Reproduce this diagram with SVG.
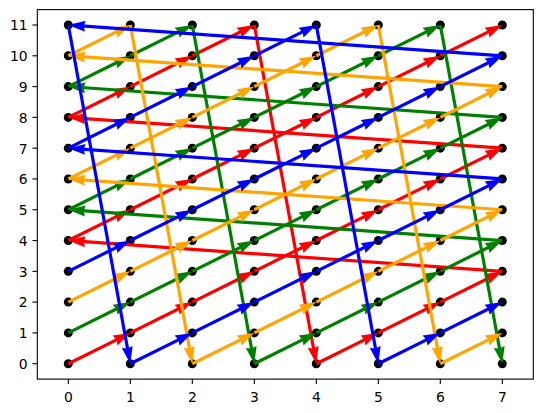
<svg xmlns="http://www.w3.org/2000/svg" xmlns:xlink="http://www.w3.org/1999/xlink" width="543" height="413" viewBox="0 0 543 413">
<style>
.pt{fill:#000}
.tick{stroke:#000;stroke-width:1.1}
.lbl{font-family:"DejaVu Sans",sans-serif;font-size:13.9px;fill:#000}
.xl{text-anchor:middle}
.yl{text-anchor:end}
</style>
<defs>
<path id="hd" d="M0,0 L-17,-5.5 L-15.5,0 L-17,5.5 Z" fill="currentColor"/>
<g id="a1"><line x1="0" y1="0" x2="56.63" y2="-28.12" stroke="currentColor" stroke-width="3.2"/><use href="#hd" transform="translate(62,-30.79) rotate(-26.41)"/></g>
<g id="a2"><line x1="0" y1="0" x2="-428.02" y2="-30.37" stroke="currentColor" stroke-width="3.2"/><use href="#hd" transform="translate(-434,-30.79) rotate(-175.94)"/></g>
<g id="a3"><line x1="0" y1="0" x2="60.92" y2="332.79" stroke="currentColor" stroke-width="3.2"/><use href="#hd" transform="translate(62,338.69) rotate(79.63)"/></g>
</defs>
<rect width="543" height="413" fill="#fff"/>
<g id="axes">
<rect x="37.3" y="9.6" width="496" height="369.5" fill="none" stroke="#000" stroke-width="1.1"/>
<g class="tick">
<line x1="68.3" y1="379.1" x2="68.3" y2="384"/><line x1="130.3" y1="379.1" x2="130.3" y2="384"/><line x1="192.3" y1="379.1" x2="192.3" y2="384"/><line x1="254.3" y1="379.1" x2="254.3" y2="384"/><line x1="316.3" y1="379.1" x2="316.3" y2="384"/><line x1="378.3" y1="379.1" x2="378.3" y2="384"/><line x1="440.3" y1="379.1" x2="440.3" y2="384"/><line x1="502.3" y1="379.1" x2="502.3" y2="384"/>
<line x1="32.4" y1="363.7" x2="37.3" y2="363.7"/><line x1="32.4" y1="332.91" x2="37.3" y2="332.91"/><line x1="32.4" y1="302.12" x2="37.3" y2="302.12"/><line x1="32.4" y1="271.33" x2="37.3" y2="271.33"/><line x1="32.4" y1="240.54" x2="37.3" y2="240.54"/><line x1="32.4" y1="209.75" x2="37.3" y2="209.75"/><line x1="32.4" y1="178.96" x2="37.3" y2="178.96"/><line x1="32.4" y1="148.17" x2="37.3" y2="148.17"/><line x1="32.4" y1="117.38" x2="37.3" y2="117.38"/><line x1="32.4" y1="86.59" x2="37.3" y2="86.59"/><line x1="32.4" y1="55.8" x2="37.3" y2="55.8"/><line x1="32.4" y1="25.01" x2="37.3" y2="25.01"/>
</g>
<g class="lbl xl">
<text x="68.3" y="401.5">0</text><text x="130.3" y="401.5">1</text><text x="192.3" y="401.5">2</text><text x="254.3" y="401.5">3</text><text x="316.3" y="401.5">4</text><text x="378.3" y="401.5">5</text><text x="440.3" y="401.5">6</text><text x="502.3" y="401.5">7</text>
</g>
<g class="lbl yl">
<text x="27.6" y="369">0</text><text x="27.6" y="338.2">1</text><text x="27.6" y="307.4">2</text><text x="27.6" y="276.6">3</text><text x="27.6" y="245.8">4</text><text x="27.6" y="215">5</text><text x="27.6" y="184.3">6</text><text x="27.6" y="153.5">7</text><text x="27.6" y="122.7">8</text><text x="27.6" y="91.9">9</text><text x="27.6" y="61.1">10</text><text x="27.6" y="30.3">11</text>
</g>
</g>
<g id="points">
<g id="col0"><circle class="pt" cx="68.3" cy="363.7" r="4.5"/><circle class="pt" cx="68.3" cy="332.91" r="4.5"/><circle class="pt" cx="68.3" cy="302.12" r="4.5"/><circle class="pt" cx="68.3" cy="271.33" r="4.5"/><circle class="pt" cx="68.3" cy="240.54" r="4.5"/><circle class="pt" cx="68.3" cy="209.75" r="4.5"/><circle class="pt" cx="68.3" cy="178.96" r="4.5"/><circle class="pt" cx="68.3" cy="148.17" r="4.5"/><circle class="pt" cx="68.3" cy="117.38" r="4.5"/><circle class="pt" cx="68.3" cy="86.59" r="4.5"/><circle class="pt" cx="68.3" cy="55.8" r="4.5"/><circle class="pt" cx="68.3" cy="25.01" r="4.5"/></g>
<g id="col1"><circle class="pt" cx="130.3" cy="363.7" r="4.5"/><circle class="pt" cx="130.3" cy="332.91" r="4.5"/><circle class="pt" cx="130.3" cy="302.12" r="4.5"/><circle class="pt" cx="130.3" cy="271.33" r="4.5"/><circle class="pt" cx="130.3" cy="240.54" r="4.5"/><circle class="pt" cx="130.3" cy="209.75" r="4.5"/><circle class="pt" cx="130.3" cy="178.96" r="4.5"/><circle class="pt" cx="130.3" cy="148.17" r="4.5"/><circle class="pt" cx="130.3" cy="117.38" r="4.5"/><circle class="pt" cx="130.3" cy="86.59" r="4.5"/><circle class="pt" cx="130.3" cy="55.8" r="4.5"/><circle class="pt" cx="130.3" cy="25.01" r="4.5"/></g>
<g id="col2"><circle class="pt" cx="192.3" cy="363.7" r="4.5"/><circle class="pt" cx="192.3" cy="332.91" r="4.5"/><circle class="pt" cx="192.3" cy="302.12" r="4.5"/><circle class="pt" cx="192.3" cy="271.33" r="4.5"/><circle class="pt" cx="192.3" cy="240.54" r="4.5"/><circle class="pt" cx="192.3" cy="209.75" r="4.5"/><circle class="pt" cx="192.3" cy="178.96" r="4.5"/><circle class="pt" cx="192.3" cy="148.17" r="4.5"/><circle class="pt" cx="192.3" cy="117.38" r="4.5"/><circle class="pt" cx="192.3" cy="86.59" r="4.5"/><circle class="pt" cx="192.3" cy="55.8" r="4.5"/><circle class="pt" cx="192.3" cy="25.01" r="4.5"/></g>
<g id="col3"><circle class="pt" cx="254.3" cy="363.7" r="4.5"/><circle class="pt" cx="254.3" cy="332.91" r="4.5"/><circle class="pt" cx="254.3" cy="302.12" r="4.5"/><circle class="pt" cx="254.3" cy="271.33" r="4.5"/><circle class="pt" cx="254.3" cy="240.54" r="4.5"/><circle class="pt" cx="254.3" cy="209.75" r="4.5"/><circle class="pt" cx="254.3" cy="178.96" r="4.5"/><circle class="pt" cx="254.3" cy="148.17" r="4.5"/><circle class="pt" cx="254.3" cy="117.38" r="4.5"/><circle class="pt" cx="254.3" cy="86.59" r="4.5"/><circle class="pt" cx="254.3" cy="55.8" r="4.5"/><circle class="pt" cx="254.3" cy="25.01" r="4.5"/></g>
<g id="col4"><circle class="pt" cx="316.3" cy="363.7" r="4.5"/><circle class="pt" cx="316.3" cy="332.91" r="4.5"/><circle class="pt" cx="316.3" cy="302.12" r="4.5"/><circle class="pt" cx="316.3" cy="271.33" r="4.5"/><circle class="pt" cx="316.3" cy="240.54" r="4.5"/><circle class="pt" cx="316.3" cy="209.75" r="4.5"/><circle class="pt" cx="316.3" cy="178.96" r="4.5"/><circle class="pt" cx="316.3" cy="148.17" r="4.5"/><circle class="pt" cx="316.3" cy="117.38" r="4.5"/><circle class="pt" cx="316.3" cy="86.59" r="4.5"/><circle class="pt" cx="316.3" cy="55.8" r="4.5"/><circle class="pt" cx="316.3" cy="25.01" r="4.5"/></g>
<g id="col5"><circle class="pt" cx="378.3" cy="363.7" r="4.5"/><circle class="pt" cx="378.3" cy="332.91" r="4.5"/><circle class="pt" cx="378.3" cy="302.12" r="4.5"/><circle class="pt" cx="378.3" cy="271.33" r="4.5"/><circle class="pt" cx="378.3" cy="240.54" r="4.5"/><circle class="pt" cx="378.3" cy="209.75" r="4.5"/><circle class="pt" cx="378.3" cy="178.96" r="4.5"/><circle class="pt" cx="378.3" cy="148.17" r="4.5"/><circle class="pt" cx="378.3" cy="117.38" r="4.5"/><circle class="pt" cx="378.3" cy="86.59" r="4.5"/><circle class="pt" cx="378.3" cy="55.8" r="4.5"/><circle class="pt" cx="378.3" cy="25.01" r="4.5"/></g>
<g id="col6"><circle class="pt" cx="440.3" cy="363.7" r="4.5"/><circle class="pt" cx="440.3" cy="332.91" r="4.5"/><circle class="pt" cx="440.3" cy="302.12" r="4.5"/><circle class="pt" cx="440.3" cy="271.33" r="4.5"/><circle class="pt" cx="440.3" cy="240.54" r="4.5"/><circle class="pt" cx="440.3" cy="209.75" r="4.5"/><circle class="pt" cx="440.3" cy="178.96" r="4.5"/><circle class="pt" cx="440.3" cy="148.17" r="4.5"/><circle class="pt" cx="440.3" cy="117.38" r="4.5"/><circle class="pt" cx="440.3" cy="86.59" r="4.5"/><circle class="pt" cx="440.3" cy="55.8" r="4.5"/><circle class="pt" cx="440.3" cy="25.01" r="4.5"/></g>
<g id="col7"><circle class="pt" cx="502.3" cy="363.7" r="4.5"/><circle class="pt" cx="502.3" cy="332.91" r="4.5"/><circle class="pt" cx="502.3" cy="302.12" r="4.5"/><circle class="pt" cx="502.3" cy="271.33" r="4.5"/><circle class="pt" cx="502.3" cy="240.54" r="4.5"/><circle class="pt" cx="502.3" cy="209.75" r="4.5"/><circle class="pt" cx="502.3" cy="178.96" r="4.5"/><circle class="pt" cx="502.3" cy="148.17" r="4.5"/><circle class="pt" cx="502.3" cy="117.38" r="4.5"/><circle class="pt" cx="502.3" cy="86.59" r="4.5"/><circle class="pt" cx="502.3" cy="55.8" r="4.5"/><circle class="pt" cx="502.3" cy="25.01" r="4.5"/></g>
</g>
<g id="connectors">
<g id="red" style="color:#ff0000">
<use href="#a1" x="68.3" y="363.7"/><use href="#a1" x="130.3" y="332.91"/><use href="#a1" x="192.3" y="302.12"/><use href="#a1" x="254.3" y="271.33"/><use href="#a1" x="316.3" y="240.54"/><use href="#a1" x="378.3" y="209.75"/><use href="#a1" x="440.3" y="178.96"/>
<use href="#a2" x="502.3" y="148.17"/>
<use href="#a1" x="68.3" y="117.38"/><use href="#a1" x="130.3" y="86.59"/><use href="#a1" x="192.3" y="55.8"/>
<use href="#a3" x="254.3" y="25.01"/>
<use href="#a1" x="316.3" y="363.7"/><use href="#a1" x="378.3" y="332.91"/><use href="#a1" x="440.3" y="302.12"/>
<use href="#a2" x="502.3" y="271.33"/>
<use href="#a1" x="68.3" y="240.54"/><use href="#a1" x="130.3" y="209.75"/><use href="#a1" x="192.3" y="178.96"/><use href="#a1" x="254.3" y="148.17"/><use href="#a1" x="316.3" y="117.38"/><use href="#a1" x="378.3" y="86.59"/><use href="#a1" x="440.3" y="55.8"/>
</g>
<g id="green" style="color:#008000">
<use href="#a1" x="68.3" y="332.91"/><use href="#a1" x="130.3" y="302.12"/><use href="#a1" x="192.3" y="271.33"/><use href="#a1" x="254.3" y="240.54"/><use href="#a1" x="316.3" y="209.75"/><use href="#a1" x="378.3" y="178.96"/><use href="#a1" x="440.3" y="148.17"/>
<use href="#a2" x="502.3" y="117.38"/>
<use href="#a1" x="68.3" y="86.59"/><use href="#a1" x="130.3" y="55.8"/>
<use href="#a3" x="192.3" y="25.01"/>
<use href="#a1" x="254.3" y="363.7"/><use href="#a1" x="316.3" y="332.91"/><use href="#a1" x="378.3" y="302.12"/><use href="#a1" x="440.3" y="271.33"/>
<use href="#a2" x="502.3" y="240.54"/>
<use href="#a1" x="68.3" y="209.75"/><use href="#a1" x="130.3" y="178.96"/><use href="#a1" x="192.3" y="148.17"/><use href="#a1" x="254.3" y="117.38"/><use href="#a1" x="316.3" y="86.59"/><use href="#a1" x="378.3" y="55.8"/>
<use href="#a3" x="440.3" y="25.01"/>
</g>
<g id="orange" style="color:#ffa500">
<use href="#a1" x="68.3" y="302.12"/><use href="#a1" x="130.3" y="271.33"/><use href="#a1" x="192.3" y="240.54"/><use href="#a1" x="254.3" y="209.75"/><use href="#a1" x="316.3" y="178.96"/><use href="#a1" x="378.3" y="148.17"/><use href="#a1" x="440.3" y="117.38"/>
<use href="#a2" x="502.3" y="86.59"/>
<use href="#a1" x="68.3" y="55.8"/>
<use href="#a3" x="130.3" y="25.01"/>
<use href="#a1" x="192.3" y="363.7"/><use href="#a1" x="254.3" y="332.91"/><use href="#a1" x="316.3" y="302.12"/><use href="#a1" x="378.3" y="271.33"/><use href="#a1" x="440.3" y="240.54"/>
<use href="#a2" x="502.3" y="209.75"/>
<use href="#a1" x="68.3" y="178.96"/><use href="#a1" x="130.3" y="148.17"/><use href="#a1" x="192.3" y="117.38"/><use href="#a1" x="254.3" y="86.59"/><use href="#a1" x="316.3" y="55.8"/>
<use href="#a3" x="378.3" y="25.01"/>
<use href="#a1" x="440.3" y="363.7"/>
</g>
<g id="blue" style="color:#0000ff">
<use href="#a1" x="68.3" y="271.33"/><use href="#a1" x="130.3" y="240.54"/><use href="#a1" x="192.3" y="209.75"/><use href="#a1" x="254.3" y="178.96"/><use href="#a1" x="316.3" y="148.17"/><use href="#a1" x="378.3" y="117.38"/><use href="#a1" x="440.3" y="86.59"/>
<use href="#a2" x="502.3" y="55.8"/>
<use href="#a3" x="68.3" y="25.01"/>
<use href="#a1" x="130.3" y="363.7"/><use href="#a1" x="192.3" y="332.91"/><use href="#a1" x="254.3" y="302.12"/><use href="#a1" x="316.3" y="271.33"/><use href="#a1" x="378.3" y="240.54"/><use href="#a1" x="440.3" y="209.75"/>
<use href="#a2" x="502.3" y="178.96"/>
<use href="#a1" x="68.3" y="148.17"/><use href="#a1" x="130.3" y="117.38"/><use href="#a1" x="192.3" y="86.59"/><use href="#a1" x="254.3" y="55.8"/>
<use href="#a3" x="316.3" y="25.01"/>
<use href="#a1" x="378.3" y="363.7"/><use href="#a1" x="440.3" y="332.91"/>
</g>
</g>
</svg>
